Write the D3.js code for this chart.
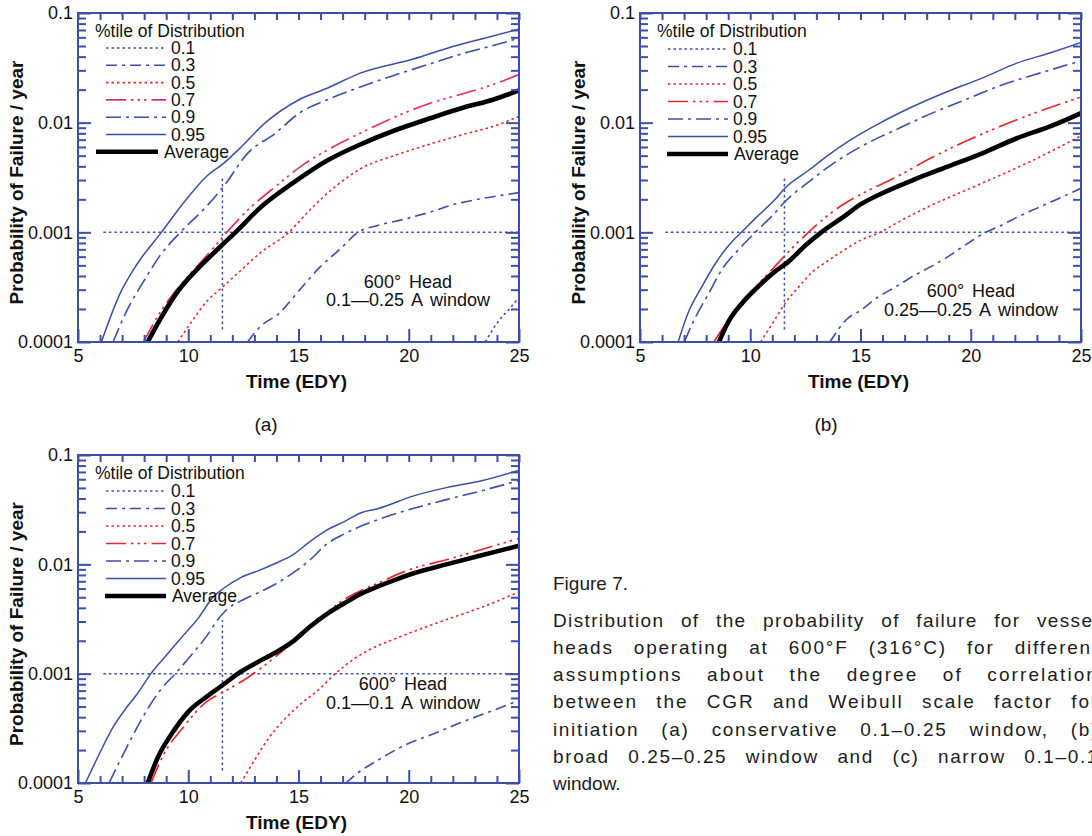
<!DOCTYPE html>
<html>
<head>
<meta charset="utf-8">
<script src="https://cdn.jsdelivr.net/npm/d3@7"></script>
<style>
  html, body { margin: 0; padding: 0; background: #fff; }
  #wrap { position: relative; width: 1092px; height: 836px; overflow: hidden; }
  #chart { position: absolute; left: 0; top: 0; }
</style>
</head>
<body>
<div id="wrap">
  <svg id="chart" width="1092" height="836"></svg>
</div>
<script>
// ---- axis values ----
const timeTicks = [5, 10, 15, 20, 25];
const timeMinorTicks = [6, 7, 8, 9, 11, 12, 13, 14, 16, 17, 18, 19, 21, 22, 23, 24];
const probTicks = [0.0001, 0.001, 0.01, 0.1];
const probTickLabels = ["0.0001", "0.001", "0.01", "0.1"];
const probMinorTicks = [2, 3, 4, 5, 6, 7, 8, 9].flatMap(m => [1e-4, 1e-3, 1e-2].map(d => +(m * d).toPrecision(2)));
const percentiles = ["0.1", "0.3", "0.5", "0.7", "0.9", "0.95", "Average"];

// reference lines: 1e-3 per year and the time it is reached on average
const refLevel = [[6.15, 0.001], [25, 0.001]];
const refTime = [[11.55, 0.00013], [11.55, 0.0031]];

// ---- (a) 0.1–0.25 A window : [time (EDY), probability / year] ----
const a_p10 = [[23.47, 1e-4], [24.09, 1.57e-4], [24.56, 2.0e-4], [25, 2.55e-4]];
const a_p30 = [[12.69, 1e-4], [13.31, 1.41e-4], [14.09, 1.8e-4], [15.03, 2.95e-4], [15.97, 4.82e-4], [16.91, 7.1e-4],
  [17.69, 1e-3], [18.63, 1.16e-3], [19.88, 1.33e-3], [20.97, 1.53e-3], [22.06, 1.8e-3], [23.31, 2.03e-3], [25, 2.3e-3]];
const a_p50 = [[9.53, 1e-4], [10.19, 1.57e-4], [10.81, 2.31e-4], [11.59, 3.21e-4], [12.38, 4.49e-4], [13.31, 6.6e-4],
  [14.56, 1e-3], [15.5, 1.59e-3], [16.75, 2.69e-3], [17.84, 3.82e-3], [19.41, 5.06e-3], [20.97, 6.38e-3],
  [22.53, 7.87e-3], [23.78, 9.18e-3], [25, 0.0114]];
const a_p70 = [[7.97, 1e-4], [8.78, 1.94e-4], [9.56, 3.16e-4], [10.5, 5.17e-4], [11.44, 8.45e-4], [11.75, 1e-3],
  [12.69, 1.59e-3], [13.94, 2.6e-3], [15.19, 4.1e-3], [16.44, 5.82e-3], [17.84, 8.1e-3], [19.41, 0.01135],
  [20.97, 0.01503], [22.53, 0.01854], [23.78, 0.0221], [25, 0.0275]];
const a_p90 = [[6.59, 1e-4], [7.22, 1.94e-4], [8.0, 3.64e-4], [8.78, 6.38e-4], [9.64, 1e-3], [10.81, 1.71e-3],
  [11.59, 2.6e-3], [12.69, 5.25e-3], [13.94, 7.98e-3], [15.03, 0.0122], [16.28, 0.0161], [17.84, 0.0213],
  [19.41, 0.0273], [20.97, 0.0344], [22.53, 0.0431], [23.78, 0.0502], [25, 0.059]];
const a_p95 = [[6.06, 1e-4], [6.9, 2.75e-4], [7.69, 5.17e-4], [8.78, 1e-3], [9.88, 1.96e-3], [10.8, 3.2e-3],
  [11.6, 4.25e-3], [12.4, 6.0e-3], [13.5, 0.01], [15.0, 0.0161], [16.3, 0.0206], [17.8, 0.0283], [20.2, 0.038],
  [21.75, 0.0478], [23.3, 0.058], [25, 0.0714]];
const a_avg = [[8.16, 1e-4], [8.78, 1.68e-4], [9.56, 2.95e-4], [10.5, 4.82e-4], [11.44, 7.35e-4], [12.14, 1e-3],
  [13.31, 1.71e-3], [14.72, 2.79e-3], [16.28, 4.49e-3], [17.84, 6.38e-3], [19.41, 8.57e-3], [20.97, 0.01096],
  [22.53, 0.0138], [23.78, 0.0161], [25, 0.0197]];

// ---- (b) 0.25–0.25 A window ----
const b_p10 = [];
const b_p30 = [[13.61, 1e-4], [14.4, 1.63e-4], [15.02, 1.95e-4], [15.81, 2.58e-4], [16.59, 3.18e-4], [17.38, 3.98e-4],
  [18.17, 4.84e-4], [18.95, 5.97e-4], [19.74, 7.64e-4], [20.68, 1e-3], [21.31, 1.14e-3], [22.09, 1.37e-3],
  [22.88, 1.62e-3], [23.66, 1.9e-3], [25, 2.52e-3]];
const b_p50 = [[10.47, 1e-4], [11.1, 1.58e-4], [11.57, 2.24e-4], [12.2, 3.18e-4], [12.82, 4.36e-4], [13.45, 5.38e-4],
  [14.24, 6.87e-4], [15.02, 8.49e-4], [15.89, 1e-3], [16.59, 1.2e-3], [18.17, 1.75e-3], [19.74, 2.4e-3],
  [21.31, 3.3e-3], [22.88, 4.6e-3], [25, 7.6e-3]];
const b_p70 = [[8.35, 1e-4], [8.74, 1.32e-4], [9.37, 2.02e-4], [10.31, 3.29e-4], [11.1, 4.84e-4], [11.88, 7.13e-4],
  [12.64, 1e-3], [13.45, 1.39e-3], [14.24, 1.81e-3], [15.34, 2.4e-3], [16.59, 3.17e-3], [18.17, 4.73e-3],
  [19.74, 6.72e-3], [21.31, 9.2e-3], [22.88, 0.0122], [25, 0.0171]];
const b_p90 = [[7.01, 1e-4], [7.48, 1.63e-4], [8.11, 2.76e-4], [8.74, 4.67e-4], [9.52, 7.13e-4], [10.23, 1e-3],
  [11.1, 1.49e-3], [11.57, 1.9e-3], [12.67, 2.9e-3], [13.77, 4.26e-3], [15.02, 6.05e-3], [16.59, 8.6e-3],
  [18.17, 0.01203], [19.74, 0.01614], [21.31, 0.02167], [22.88, 0.0273], [25, 0.0366]];
const b_p95 = [[6.73, 1e-4], [7.17, 1.82e-4], [7.8, 3.18e-4], [8.42, 5.2e-4], [9.21, 8.38e-4], [9.6, 1e-3],
  [10.31, 1.39e-3], [11.1, 1.97e-3], [11.57, 2.52e-3], [12.67, 3.7e-3], [13.45, 4.9e-3], [14.55, 6.96e-3],
  [15.81, 9.75e-3], [17.38, 0.01403], [18.95, 0.01923], [20.52, 0.02547], [22.09, 0.0349], [23.66, 0.0437], [25, 0.054]];
const b_avg = [[8.58, 1e-4], [9.05, 1.58e-4], [9.68, 2.32e-4], [10.31, 3.13e-4], [11.1, 4.36e-4], [11.72, 5.38e-4],
  [12.51, 7.64e-4], [13.22, 1e-3], [14.24, 1.39e-3], [15.02, 1.81e-3], [15.81, 2.19e-3], [17.38, 3.0e-3],
  [18.95, 3.97e-3], [20.52, 5.26e-3], [22.09, 7.21e-3], [23.66, 9.33e-3], [25, 0.0122]];

// ---- (c) 0.1–0.1 A window ----
const c_p10 = [];
const c_p30 = [[17.14, 1e-4], [17.84, 1.3e-4], [18.63, 1.63e-4], [19.88, 2.25e-4], [21.13, 2.82e-4], [22.53, 3.68e-4],
  [23.63, 4.45e-4], [25, 5.7e-4]];
const c_p50 = [[12.38, 1e-4], [13.0, 1.61e-4], [13.63, 2.54e-4], [14.25, 3.61e-4], [15.03, 5.13e-4], [15.97, 7.29e-4],
  [16.67, 1e-3], [17.53, 1.37e-3], [18.31, 1.69e-3], [19.41, 2.1e-3], [20.5, 2.55e-3], [21.75, 3.15e-3],
  [23.31, 4.05e-3], [25, 5.6e-3]];
const c_p70 = [[8.31, 1e-4], [8.94, 1.91e-4], [9.72, 3.13e-4], [10.81, 5.5e-4], [11.59, 6.79e-4], [12.69, 9.19e-4],
  [13.94, 1.42e-3], [15.5, 2.67e-3], [17.06, 4.76e-3], [18.63, 6.77e-3], [20.19, 9.16e-3], [21.75, 0.01107],
  [23.31, 0.01368], [25, 0.0173]];
const c_p90 = [[6.41, 1e-4], [6.91, 1.61e-4], [7.53, 2.82e-4], [8.16, 4.77e-4], [8.78, 7.29e-4], [9.41, 1e-3],
  [10.19, 1.52e-3], [10.81, 2.17e-3], [11.44, 3.31e-3], [11.75, 3.86e-3], [12.38, 4.63e-3], [13.16, 5.48e-3],
  [13.94, 6.58e-3], [14.88, 8.71e-3], [15.5, 0.0109], [16.28, 0.01531], [17.06, 0.01888], [17.84, 0.02238],
  [18.63, 0.02576], [20.19, 0.03247], [21.75, 0.03926], [23.31, 0.04712], [25, 0.0585]];
const c_p95 = [[5.34, 1e-4], [5.97, 1.85e-4], [6.59, 3.24e-4], [7.22, 4.95e-4], [7.69, 6.56e-4], [8.31, 1e-3],
  [8.94, 1.42e-3], [9.72, 2.17e-3], [10.5, 3.31e-3], [11.13, 5.04e-3], [11.59, 6.01e-3], [12.38, 7.57e-3],
  [13.16, 8.71e-3], [13.94, 0.01018], [14.72, 0.01213], [15.5, 0.01606], [16.28, 0.02056], [17.06, 0.02449],
  [17.84, 0.02965], [18.63, 0.03247], [20.19, 0.04207], [21.75, 0.05055], [23.31, 0.0582], [25, 0.0725]];
const c_avg = [[8.16, 1e-4], [8.63, 1.73e-4], [9.25, 2.82e-4], [10.03, 4.55e-4], [10.81, 6.11e-4], [11.44, 7.55e-4],
  [12.38, 1.04e-3], [13.16, 1.28e-3], [13.94, 1.55e-3], [14.72, 1.95e-3], [15.5, 2.67e-3], [16.28, 3.5e-3],
  [17.06, 4.38e-3], [17.84, 5.4e-3], [18.63, 6.31e-3], [19.41, 7.26e-3], [20.19, 8.24e-3], [21.75, 0.01004],
  [23.31, 0.01213], [25, 0.0148]];

// ---- panel text ----
const panelLetters = ["(a)", "(b)", "(c)"];
const panelNotes = [
  ["600° Head", "0.1—0.25 A window"],
  ["600° Head", "0.25—0.25 A window"],
  ["600° Head", "0.1—0.1 A window"]
];
const legendTitle = "%tile of Distribution";
const xTitle = "Time (EDY)";
const yTitle = "Probability of Failure / year";
const captionHead = "Figure 7.";
const captionLines = [
  "Distribution of the probability of failure for vessel",
  "heads operating at 600°F (316°C) for different",
  "assumptions about the degree of correlation",
  "between the CGR and Weibull scale factor for",
  "initiation (a) conservative 0.1–0.25 window, (b)",
  "broad 0.25–0.25 window and (c) narrow 0.1–0.1",
  "window."
];

// ---- styling ----
const BLUE = "#3c4ea6";
const RED = "#e8282c";
const PINK = "#e0306a";
const FONT = "'Liberation Sans', Arial, Helvetica, sans-serif";

function seriesStyles(color07) {
  return {
    "0.1":     { color: BLUE, dash: "2.5,3", width: 1.6 },
    "0.3":     { color: BLUE, dash: "11,5,3,5", width: 1.6 },
    "0.5":     { color: RED, dash: "2.5,3", width: 1.6 },
    "0.7":     { color: color07, dash: "20,5,2.5,4,2.5,4,2.5,5", width: 1.7 },
    "0.9":     { color: BLUE, dash: "15,5,3,5", width: 1.6 },
    "0.95":    { color: BLUE, dash: null, width: 1.5 },
    "Average": { color: "#000", dash: null, width: 4.6 }
  };
}

const panels = [
  { left: 78, top: 13, width: 441, height: 329, series: [a_p10, a_p30, a_p50, a_p70, a_p90, a_p95, a_avg],
    color07: PINK, note: [330, 282, 300], letter: [266, 424], avgLine: [18, 80, 86], legTop: 35, legStep: 17.3 },
  { left: 640, top: 13, width: 441, height: 329, series: [b_p10, b_p30, b_p50, b_p70, b_p90, b_p95, b_avg],
    color07: RED, note: [331, 291, 310], letter: [826, 424], avgLine: [27, 88, 94], legTop: 36, legStep: 17.5 },
  { left: 78, top: 455, width: 441, height: 328, series: [c_p10, c_p30, c_p50, c_p70, c_p90, c_p95, c_avg],
    color07: RED, note: [325, 684, 703], letter: null, avgLine: [27, 88, 94], legTop: 36, legStep: 17.5 }
];

const svg = d3.select("#chart").style("font-family", FONT);

panels.forEach((p, i) => {
  const W = p.width, H = p.height;
  const x = d3.scaleLinear().domain([5, 25]).range([0, W]);
  const y = d3.scaleLog().domain([1e-4, 0.1]).range([H, 0]);
  const styles = seriesStyles(p.color07);
  const g = svg.append("g").attr("transform", `translate(${p.left},${p.top})`);

  const clipId = "clip" + i;
  g.append("clipPath").attr("id", clipId).append("rect").attr("width", W).attr("height", H);

  const line = d3.line().x(d => x(d[0])).y(d => y(d[1])).curve(d3.curveMonotoneX);
  const plot = g.append("g").attr("clip-path", `url(#${clipId})`);

  // reference lines
  [refLevel, refTime].forEach(r => {
    plot.append("path").attr("d", d3.line().x(d => x(d[0])).y(d => y(d[1]))(r))
      .attr("fill", "none").attr("stroke", BLUE).attr("stroke-width", 1.5).attr("stroke-dasharray", "2.5,3");
  });

  // percentile curves and average
  p.series.forEach((s, k) => {
    if (!s.length) return;
    const st = styles[percentiles[k]];
    plot.append("path").attr("d", line(s)).attr("fill", "none")
      .attr("stroke", st.color).attr("stroke-width", st.width)
      .attr("stroke-dasharray", st.dash).attr("stroke-linejoin", "round");
  });

  // axes: inward ticks on every side
  const axisStyle = sel => {
    sel.select(".domain").remove();
    sel.selectAll(".tick line").attr("stroke", BLUE).attr("stroke-width", 2);
    sel.selectAll(".tick text").attr("fill", "#111").style("font-size", "18px").style("font-family", FONT);
  };
  g.append("g").attr("transform", `translate(0,${H})`)
    .call(d3.axisBottom(x).tickValues(timeTicks).tickSize(-13).tickPadding(7).tickFormat(d3.format("d"))).call(axisStyle);
  g.append("g").attr("transform", `translate(0,${H})`)
    .call(d3.axisBottom(x).tickValues(timeMinorTicks).tickSize(-7).tickFormat("")).call(axisStyle);
  g.append("g").call(d3.axisTop(x).tickValues(timeTicks.concat(timeMinorTicks)).tickSize(-7).tickFormat("")).call(axisStyle);

  g.append("g").call(d3.axisLeft(y).tickValues(probTicks).tickSize(-13).tickPadding(5)
    .tickFormat((d, j) => probTickLabels[j])).call(axisStyle);
  g.append("g").call(d3.axisLeft(y).tickValues(probMinorTicks).tickSize(-8).tickFormat("")).call(axisStyle);
  g.append("g").attr("transform", `translate(${W},0)`)
    .call(d3.axisRight(y).tickValues(probTicks).tickSize(-13).tickFormat("")).call(axisStyle);
  g.append("g").attr("transform", `translate(${W},0)`)
    .call(d3.axisRight(y).tickValues(probMinorTicks).tickSize(-8).tickFormat("")).call(axisStyle);

  // frame
  g.append("rect").attr("width", W).attr("height", H).attr("fill", "none")
    .attr("stroke", BLUE).attr("stroke-width", 2);

  // legend
  const leg = g.append("g").style("font-size", "17.5px").attr("fill", "#111");
  leg.append("text").attr("x", 17).attr("y", 17.5).attr("dy", "0.35em").text(legendTitle);
  percentiles.forEach((name, k) => {
    const st = styles[name];
    const yy = p.legTop + k * p.legStep;
    const isAvg = name === "Average";
    const x0 = isAvg ? p.avgLine[0] : 28, x1 = isAvg ? p.avgLine[1] : 88, tx = isAvg ? p.avgLine[2] : 93;
    leg.append("line").attr("x1", x0).attr("x2", x1).attr("y1", yy).attr("y2", yy)
      .attr("stroke", st.color).attr("stroke-width", st.width).attr("stroke-dasharray", st.dash);
    leg.append("text").attr("x", tx).attr("y", yy).attr("dy", "0.35em").text(name);
  });

  // case note
  const note = g.append("g").style("font-size", "18px").attr("fill", "#111").attr("text-anchor", "middle")
    .style("word-spacing", "3px");
  note.append("text").attr("x", p.note[0]).attr("y", p.note[1] - p.top).attr("dy", "0.35em").text(panelNotes[i][0]);
  note.append("text").attr("x", p.note[0]).attr("y", p.note[2] - p.top).attr("dy", "0.35em").text(panelNotes[i][1]);

  // axis titles
  g.append("text").attr("x", W / 2 - 2).attr("y", H + 39).attr("dy", "0.35em").attr("text-anchor", "middle")
    .style("font-size", "19px").style("font-weight", "bold").attr("fill", "#111").text(xTitle);
  g.append("text").attr("transform", `translate(-62,${H / 2 + 5}) rotate(-90)`).attr("dy", "0.35em")
    .attr("text-anchor", "middle").style("font-size", "19px").style("font-weight", "bold").attr("fill", "#111").text(yTitle);

  if (p.letter) {
    svg.append("text").attr("x", p.letter[0]).attr("y", p.letter[1]).attr("dy", "0.35em").attr("text-anchor", "middle")
      .style("font-size", "19px").attr("fill", "#111").text(panelLetters[i]);
  }
});

// caption block: justified lines, extra room shared between word gaps and letter gaps;
// the column runs past the page edge
const cap = svg.append("g").style("font-size", "19px").attr("fill", "#1c1c1c");
const capLeft = 553, capWidth = 546;
cap.append("text").attr("x", capLeft).attr("y", 583).attr("dy", "0.35em").text(captionHead);
const capCenters = [620, 647, 674, 701, 729, 756, 783];
captionLines.forEach((t, k) => {
  const txt = cap.append("text").attr("x", capLeft).attr("y", capCenters[k]).attr("dy", "0.35em").text(t);
  if (k === captionLines.length - 1) return;
  const natural = txt.node().getComputedTextLength();
  const extra = capWidth - natural;
  const gaps = (t.match(/ /g) || []).length;
  const ls = (extra * 0.5) / (t.length - 1);
  txt.style("letter-spacing", ls.toFixed(2) + "px");
  const spaced = txt.node().getComputedTextLength();
  const ws = (capWidth - spaced) / gaps;
  txt.style("word-spacing", ws.toFixed(2) + "px");
});
</script>
</body>
</html>
